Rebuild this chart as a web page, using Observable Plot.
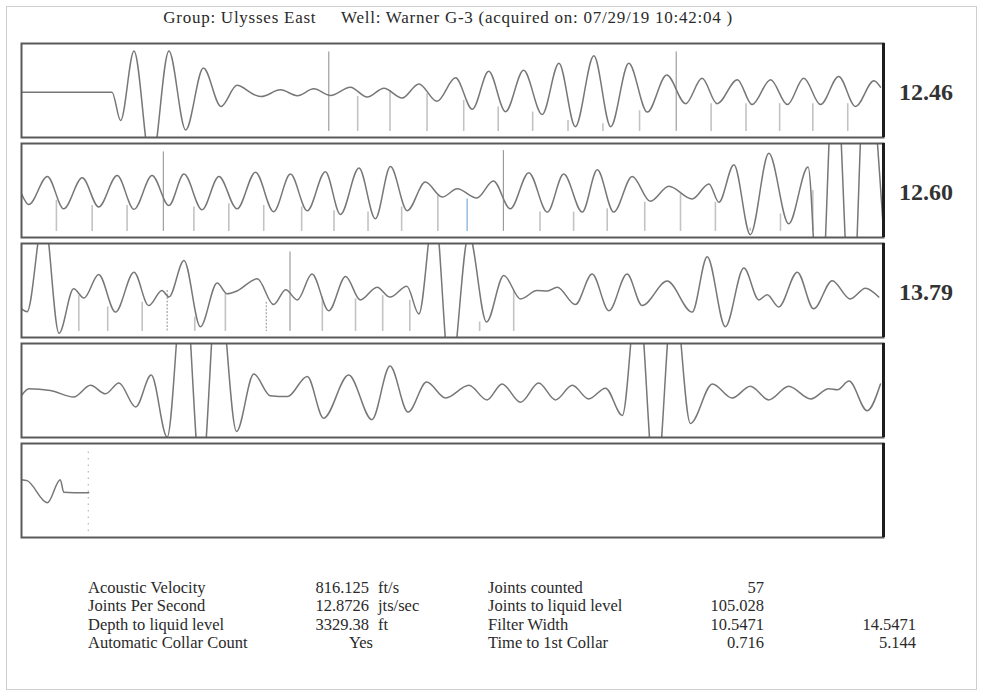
<!DOCTYPE html>
<html><head><meta charset="utf-8">
<script src="https://cdn.jsdelivr.net/npm/d3@7"></script>
<script src="https://cdn.jsdelivr.net/npm/@observablehq/plot@0.6"></script>
<style>
body{margin:0;background:#fff;}
#root{position:relative;width:983px;height:696px;font-family:"Liberation Serif","Times New Roman",serif;color:#2a2a2a;overflow:hidden;}
#outer{position:absolute;left:6px;top:6px;width:971px;height:684px;border:1px solid #cfcfcf;box-sizing:border-box;}
#title{position:absolute;left:0;width:896px;top:8px;text-align:center;font-size:17px;white-space:pre;letter-spacing:0.75px;}
.panel{position:absolute;left:19px;}
.panel svg{display:block;overflow:visible;}
.lbl{position:absolute;left:899px;font-weight:bold;font-size:24px;color:#333;}
.st{position:absolute;font-size:16.5px;white-space:pre;line-height:18px;}
</style></head><body><div id="root"><div id="outer"></div><div id="title"></div></div>
<script>
// ---------- text ----------
const titleText = "Group: Ulysses East     Well: Warner G-3 (acquired on: 07/29/19 10:42:04 )";
const panelLabels = ["12.46", "12.60", "13.79", "", ""];

// ---------- trace data (time in s, amplitude normalised to panel half-height) ----------
const wave1T = [0, 0.210, 0.230, 0.261, 0.301, 0.342, 0.381, 0.422, 0.463, 0.500, 0.539, 0.556, 0.601, 0.640, 0.678, 0.717, 0.763, 0.802, 0.841, 0.883, 0.922, 0.964, 1.007, 1.046, 1.084, 1.123, 1.165, 1.208, 1.247, 1.285, 1.328, 1.367, 1.409, 1.452, 1.497, 1.541, 1.579, 1.614, 1.661, 1.695, 1.738, 1.777, 1.815, 1.854, 1.896, 1.935, 1.978, 1.993];
const wave1A = [-0.035, -0.035, -0.64, 0.84, -1.63, 0.84, -0.84, 0.48, -0.34, 0.11, -0.085, -0.13, 0.014, -0.11, 0.035, -0.106, 0.07, -0.14, 0.05, -0.16, 0.14, -0.23, 0.27, -0.40, 0.41, -0.45, 0.43, -0.51, 0.58, -0.77, 0.74, -0.77, 0.58, -0.46, 0.33, -0.28, 0.26, -0.28, 0.23, -0.30, 0.23, -0.30, 0.26, -0.30, 0.30, -0.34, 0.21, 0.07];

const wave2T = [2.000, 2.017, 2.060, 2.098, 2.141, 2.179, 2.222, 2.261, 2.303, 2.342, 2.377, 2.419, 2.458, 2.500, 2.543, 2.585, 2.624, 2.663, 2.705, 2.740, 2.783, 2.821, 2.856, 2.895, 2.937, 2.976, 3.011, 3.056, 3.095, 3.134, 3.177, 3.220, 3.258, 3.301, 3.336, 3.374, 3.417, 3.459, 3.502, 3.556, 3.595, 3.618, 3.653, 3.691, 3.734, 3.780, 3.825, 3.852, 3.887, 3.926, 3.959, 3.998];
const wave2A = [-0.07, -0.30, 0.30, -0.39, 0.27, -0.35, 0.32, -0.40, 0.32, -0.32, 0.35, -0.41, 0.30, -0.39, 0.39, -0.45, 0.35, -0.43, 0.40, -0.51, 0.48, -0.60, 0.51, -0.43, 0.18, -0.14, 0.035, -0.16, 0.20, -0.39, 0.38, -0.46, 0.35, -0.46, 0.44, -0.46, 0.30, -0.23, 0.09, -0.18, 0.14, -0.25, 0.55, -0.94, 0.79, -0.71, 0.50, -3.0, 3.0, -3.0, 3.0, -0.6];

const wave3T = [4.000, 4.013, 4.052, 4.087, 4.121, 4.145, 4.179, 4.218, 4.261, 4.295, 4.326, 4.342, 4.377, 4.415, 4.454, 4.477, 4.500, 4.547, 4.585, 4.613, 4.640, 4.674, 4.713, 4.752, 4.786, 4.825, 4.855, 4.894, 4.922, 4.958, 4.995, 5.038, 5.079, 5.119, 5.158, 5.196, 5.220, 5.243, 5.285, 5.324, 5.363, 5.405, 5.440, 5.498, 5.556, 5.591, 5.633, 5.676, 5.711, 5.730, 5.757, 5.800, 5.838, 5.881, 5.923, 5.958, 5.989];
const wave3A = [-0.39, -0.45, 1.63, -0.91, 0.035, -0.16, 0.34, -0.46, 0.39, -0.32, 0.0, -0.14, 0.64, -0.77, 0.16, -0.07, -0.01, 0.25, -0.30, 0.014, -0.20, 0.35, -0.43, 0.30, -0.20, 0.07, -0.14, 0.09, -0.50, 1.77, -1.9, 1.2, -0.67, 0.32, -0.18, 0.0, -0.01, 0.07, -0.30, 0.35, -0.43, 0.35, -0.32, 0.20, -0.46, 0.72, -0.77, 0.48, -0.20, -0.09, -0.35, 0.39, -0.39, 0.21, -0.18, 0.05, -0.14];

const wave4T = [6.000, 6.017, 6.067, 6.121, 6.160, 6.195, 6.226, 6.265, 6.301, 6.338, 6.377, 6.417, 6.456, 6.499, 6.539, 6.577, 6.617, 6.663, 6.701, 6.759, 6.813, 6.855, 6.897, 6.940, 6.984, 7.038, 7.080, 7.115, 7.158, 7.200, 7.239, 7.278, 7.316, 7.355, 7.394, 7.430, 7.471, 7.513, 7.552, 7.603, 7.649, 7.691, 7.734, 7.780, 7.831, 7.873, 7.893, 7.920, 7.962, 7.993];
const wave4A = [-0.11, 0.035, 0.0, -0.14, 0.11, -0.07, 0.16, -0.35, 0.33, -0.99, 2.5, -2.0, 2.5, -0.87, 0.35, -0.11, -0.13, 0.30, -0.59, 0.33, -0.62, 0.52, -0.46, 0.18, -0.16, 0.11, -0.20, 0.14, -0.25, 0.16, -0.20, 0.11, -0.18, 0.05, -0.53, 2.2, -2.2, 2.2, -0.70, 0.14, -0.16, 0.09, -0.20, 0.09, -0.18, 0.035, 0.014, 0.20, -0.43, 0.14];

const wave5T = [8.000, 8.013, 8.060, 8.090, 8.098, 8.156];
const wave5A = [0.23, 0.21, -0.26, 0.23, -0.035, -0.05];

// ---------- collar markers ----------
const collarT = [0.713, 0.780, 0.855, 0.941, 1.026, 1.106, 1.186, 1.268, 1.349, 1.434, 1.519, 1.600, 1.681, 1.759, 1.836, 1.917,
  2.081, 2.164, 2.245, 2.329, 2.400, 2.481, 2.562, 2.650, 2.725, 2.804, 2.882, 2.966, 3.034, 3.118, 3.203, 3.281, 3.359, 3.446, 3.529, 3.610, 3.691, 3.761, 3.836,
  4.133, 4.200, 4.280, 4.338, 4.402, 4.473, 4.568, 4.623, 4.698, 4.775, 4.838, 4.901, 5.063, 5.142];
const collarTop = [0.82, -0.13, 0.0, -0.07, -0.21, -0.35, -0.46, -0.64, -0.71, -0.43, 0.82, -0.28, -0.28, -0.28, -0.28, -0.28,
  -0.21, -0.32, -0.32, 0.82, -0.35, -0.28, -0.32, -0.35, -0.43, -0.46, -0.35, -0.11, -0.18, 0.85, -0.46, -0.46, -0.39, -0.25, -0.07, -0.25, -0.8, -0.5, 0.0,
  -0.11, -0.35, -0.25, 0.0, -0.57, -0.07, -0.25, 0.82, -0.14, -0.18, -0.11, -0.21, -0.67, 0.0];
const collarKind = ["tall","s","s","s","s","s","s","s","s","s","tall","s","s","s","s","s",
  "s","s","s","tall","s","s","s","s","s","s","s","s","blue","tall","s","s","s","s","s","s","s","s","s",
  "s","s","s","dot","s","s","dot","tall","s","s","s","s","s","s"];
const collarBottom = -0.87;

const liquidLevelTime = [8.155];

// ---------- stats ----------
const statLabelsA = ["Acoustic Velocity", "Joints Per Second", "Depth to liquid level", "Automatic Collar Count"];
const statValuesA = ["816.125", "12.8726", "3329.38", "Yes"];
const statUnitsA = ["ft/s", "jts/sec", "ft", ""];
const statLabelsB = ["Joints counted", "Joints to liquid level", "Filter Width", "Time to 1st Collar"];
const statValuesB = ["57", "105.028", "10.5471", "0.716"];
const statValuesC = ["", "", "14.5471", "5.144"];

// ---------- build ----------
const root = document.getElementById("root");
document.getElementById("title").textContent = titleText;

const waves = [[wave1T, wave1A], [wave2T, wave2A], [wave3T, wave3A], [wave4T, wave4A], [wave5T, wave5A]];
const collars = collarT.map((t, i) => ({t, top: collarTop[i], bottom: collarBottom, kind: collarKind[i]}));
const secondsPerPanel = 2;

waves.forEach(([T, A], p) => {
  const t0 = p * secondsPerPanel, t1 = t0 + secondsPerPanel;
  const pts = T.map((t, i) => ({t, a: A[i]}));
  const cs = collars.filter(d => d.t >= t0 && d.t < t1);
  const marks = [
    Plot.ruleX(cs.filter(d => d.kind === "s"), {x: "t", y1: "top", y2: "bottom", stroke: "#c3c3c3", strokeWidth: 1.6, clip: true}),
    Plot.ruleX(cs.filter(d => d.kind === "blue"), {x: "t", y1: "top", y2: "bottom", stroke: "#9dc0e0", strokeWidth: 1.6, clip: true}),
    Plot.ruleX(cs.filter(d => d.kind === "dot"), {x: "t", y1: "top", y2: "bottom", stroke: "#aaa", strokeWidth: 1.3, strokeDasharray: "2,1.5", clip: true}),
    Plot.ruleX(cs.filter(d => d.kind === "tall"), {x: "t", y1: "top", y2: "bottom", stroke: "#8a8a8a", strokeWidth: 1, clip: true}),
    Plot.line(pts, {x: "t", y: "a", curve: "monotone-x", stroke: "#777", strokeWidth: 1.5, clip: true}),
    Plot.frame({stroke: "#5a5a5a", strokeWidth: 2}),
    Plot.ruleX([t1], {stroke: "#1e1e1e", strokeWidth: 3})
  ];
  if (p === 4) {
    marks.unshift(Plot.ruleX(liquidLevelTime, {y1: -0.87, y2: 0.85, stroke: "#b5b5b5", strokeWidth: 1.2, strokeDasharray: "1.5,5"}));
  }
  const svg = Plot.plot({
    width: 866, height: 98, margin: 2,
    x: {domain: [t0, t1], axis: null},
    y: {domain: [-1, 1], axis: null},
    marks
  });
  const div = document.createElement("div");
  div.className = "panel";
  div.style.top = (41 + p * 100) + "px";
  div.appendChild(svg);
  root.appendChild(div);
  if (panelLabels[p]) {
    const l = document.createElement("div");
    l.className = "lbl";
    l.style.top = (79 + p * 100) + "px";
    l.textContent = panelLabels[p];
    root.appendChild(l);
  }
});

function addText(txt, x, y, align) {
  const d = document.createElement("div");
  d.className = "st";
  d.textContent = txt;
  d.style.top = y + "px";
  if (align === "right") { d.style.right = (983 - x) + "px"; d.style.textAlign = "right"; }
  else d.style.left = x + "px";
  root.appendChild(d);
}
statLabelsA.forEach((s, i) => {
  const y = 579 + i * 18.3;
  addText(s, 88, y);
  addText(statValuesA[i], statValuesA[i] === "Yes" ? 373 : 369, y, "right");
  addText(statUnitsA[i], 378, y);
  addText(statLabelsB[i], 488, y);
  addText(statValuesB[i], 764, y, "right");
  if (statValuesC[i]) addText(statValuesC[i], 916, y, "right");
});
</script></body></html>
